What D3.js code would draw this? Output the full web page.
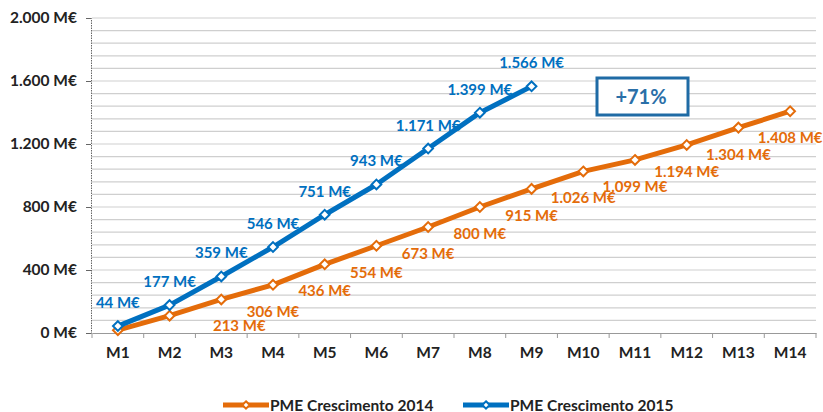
<html>
<head>
<script src="https://cdnjs.cloudflare.com/ajax/libs/d3/7.8.5/d3.min.js"></script>
<style>
  body { margin: 0; background: #fff; }
  text { font-family: Lato, "Open Sans", sans-serif; font-weight: bold; }
</style>
</head>
<body>
<script>
  // data
  var months = ["M1","M2","M3","M4","M5","M6","M7","M8","M9","M10","M11","M12","M13","M14"];
  var pme2014 = [18, 110, 213, 306, 436, 554, 673, 800, 915, 1026, 1099, 1194, 1304, 1408];
  var pme2015 = [44, 177, 359, 546, 751, 943, 1171, 1399, 1566];
  var showLabel2014 = [false, false, true, true, true, true, true, true, true, true, true, true, true, true];
  var yTicks = [0, 400, 800, 1200, 1600, 2000];
  var seriesNames = ["PME Crescimento 2014", "PME Crescimento 2015"];
  var growthLabel = "+71%";

  const W = 823, H = 412;
  const ORANGE = "#E46C0A", BLUE = "#0070C0";

  var svg = d3.select("body").append("svg")
    .attr("width", W).attr("height", H);

  var x = d3.scaleBand().domain(months).range([92, 816]);
  var y = d3.scaleLinear().domain([0, 2000]).range([333, 18]);

  const fmt = v => d3.format(",")(v).replace(/,/g, ".") + " M€";

  // gridlines every 80
  svg.append("g").selectAll("line")
    .data(d3.range(80, 2001, 80))
    .enter().append("line")
    .attr("x1", 92).attr("x2", 816)
    .attr("y1", d => y(d)).attr("y2", d => y(d))
    .attr("stroke", "#cfcfcf").attr("stroke-width", 1.2);

  // y axis
  var yAxis = svg.append("g").attr("transform", "translate(91,0)")
    .call(d3.axisLeft(y).tickValues(yTicks).tickSize(5).tickPadding(9).tickFormat(fmt));
  yAxis.select(".domain").attr("stroke", "#666").attr("stroke-dasharray", "1.5,1");
  yAxis.selectAll(".tick line").attr("stroke", "#666");
  yAxis.selectAll("text").attr("font-size", 15.5).attr("fill", "#222");

  // x axis
  var xAxis = svg.append("g").attr("transform", "translate(0,333)")
    .call(d3.axisBottom(x).tickSize(0).tickPadding(14));
  xAxis.select(".domain").attr("stroke", "#999").attr("stroke-width", 1.2);
  xAxis.selectAll("text").attr("font-size", 15.5).attr("fill", "#222");
  xAxis.append("g").selectAll("line")
    .data(months.concat([null]))
    .enter().append("line")
    .attr("x1", (d, i) => 92 + i * x.step()).attr("x2", (d, i) => 92 + i * x.step())
    .attr("y1", 0).attr("y2", 5)
    .attr("stroke", "#999");

  var line = d3.line()
    .x((d, i) => x(months[i]) + x.bandwidth() / 2)
    .y(d => y(d));

  function drawSeries(data, color) {
    svg.append("path")
      .attr("d", line(data))
      .attr("fill", "none")
      .attr("stroke", color)
      .attr("stroke-width", 5)
      .attr("stroke-linejoin", "round");
    svg.append("g").selectAll("path")
      .data(data)
      .enter().append("path")
      .attr("d", d3.symbol().type(d3.symbolDiamond2).size(60))
      .attr("transform", (d, i) => "translate(" + (x(months[i]) + x.bandwidth() / 2) + "," + y(d) + ")")
      .attr("fill", "#fff")
      .attr("stroke", color)
      .attr("stroke-width", 2);
  }

  drawSeries(pme2014, ORANGE);
  drawSeries(pme2015, BLUE);

  // data labels
  svg.append("g").selectAll("text")
    .data(pme2014.map((v, i) => ({ v: v, i: i })).filter(d => showLabel2014[d.i]))
    .enter().append("text")
    .attr("x", d => x(months[d.i]) + x.bandwidth() / 2 + (d.i === 2 ? 18 : 0))
    .attr("y", d => y(d.v) + 32)
    .attr("text-anchor", "middle")
    .attr("font-size", 15)
    .attr("fill", ORANGE)
    .text(d => fmt(d.v));

  svg.append("g").selectAll("text")
    .data(pme2015)
    .enter().append("text")
    .attr("x", (d, i) => x(months[i]) + x.bandwidth() / 2)
    .attr("y", d => y(d) - 18)
    .attr("text-anchor", "middle")
    .attr("font-size", 15)
    .attr("fill", BLUE)
    .text(d => fmt(d));

  // growth box
  svg.append("rect")
    .attr("x", 597).attr("y", 78).attr("width", 91).attr("height", 37)
    .attr("fill", "#fff").attr("stroke", "#1F6BA5").attr("stroke-width", 3);
  svg.append("text")
    .attr("x", 641).attr("y", 104)
    .attr("text-anchor", "middle")
    .attr("font-size", 20)
    .attr("fill", "#2A6FA8")
    .text(growthLabel);

  // legend
  var legend = svg.append("g");
  [[223, ORANGE], [463, BLUE]].forEach(function (p, k) {
    var g = legend.append("g").attr("transform", "translate(" + p[0] + ",405)");
    g.append("line").attr("x1", 0).attr("x2", 46).attr("y1", 0).attr("y2", 0)
      .attr("stroke", p[1]).attr("stroke-width", 5);
    g.append("path").attr("d", d3.symbol().type(d3.symbolDiamond2).size(35))
      .attr("transform", "translate(23,0)")
      .attr("fill", "#fff").attr("stroke", p[1]).attr("stroke-width", 2);
    g.append("text").attr("x", 47).attr("y", 5.5)
      .attr("font-size", 15.5).attr("fill", "#222")
      .text(seriesNames[k]);
  });
</script>
</body>
</html>
